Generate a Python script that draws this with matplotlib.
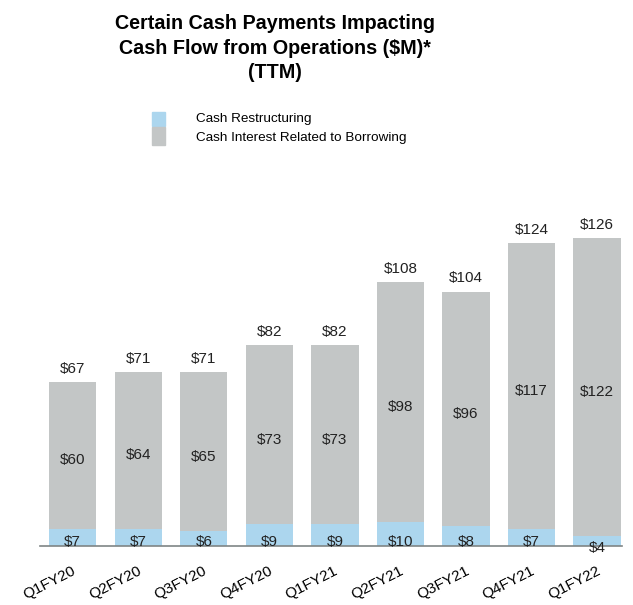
import numpy as np
import matplotlib
matplotlib.use('Agg')
import matplotlib.pyplot as plt
from matplotlib.transforms import ScaledTranslation

plt.rcParams['font.family'] = ['Liberation Sans', 'DejaVu Sans']

trimestres = ['Q1FY20', 'Q2FY20', 'Q3FY20', 'Q4FY20', 'Q1FY21',
              'Q2FY21', 'Q3FY21', 'Q4FY21', 'Q1FY22']
reestructuracion = [7, 7, 6, 9, 9, 10, 8, 7, 4]
intereses = [60, 64, 65, 73, 73, 98, 96, 117, 122]
totales = [67, 71, 71, 82, 82, 108, 104, 124, 126]

color_azul = '#acd6ee'
color_gris = '#c3c6c6'
color_texto = '#222222'

fig = plt.figure(figsize=(6.33, 6.05), dpi=100)
ax = fig.add_axes([40 / 633, 1 - 546 / 605, 582 / 633, 318 / 605])

x = np.arange(len(trimestres))
ancho = 0.72

ax.bar(x, reestructuracion, ancho, color=color_azul, zorder=2)
ax.bar(x, intereses, ancho, bottom=reestructuracion, color=color_gris, zorder=2)

ax.set_xlim(-0.5, 8.38)
ax.set_ylim(0, 130)

# Etiquetas de valores
for i in x:
    r = reestructuracion[i]
    y_r = -0.8 if r < 5 else 1.8
    ax.text(i, y_r, f'${r}', ha='center', va='center', fontsize=11, color=color_texto, zorder=3)
    ax.text(i, r + intereses[i] / 2 - 2, f'${intereses[i]}', ha='center', va='center',
            fontsize=11, color=color_texto, zorder=3)
    ax.text(i, totales[i] + 2.5, f'${totales[i]}', ha='center', va='bottom',
            fontsize=11, color=color_texto, zorder=3)

for lado in ['top', 'right', 'left']:
    ax.spines[lado].set_visible(False)
ax.spines['bottom'].set_color('#7f8585')
ax.spines['bottom'].set_linewidth(1.2)
ax.set_yticks([])
ax.set_xticks(x)
ax.set_xticklabels(trimestres, rotation=27, ha='right', rotation_mode='anchor', fontsize=11)
ax.tick_params(axis='x', length=0, pad=13)
desplazamiento = ScaledTranslation(-1 / 100, 0, fig.dpi_scale_trans)
for etiqueta in ax.get_xticklabels():
    etiqueta.set_transform(etiqueta.get_transform() + desplazamiento)

# Titulo
fig.text(275 / 633, 1 - 48 / 605, 'Certain Cash Payments Impacting\nCash Flow from Operations ($M)*\n(TTM)',
         ha='center', va='center', fontsize=14.2, fontweight='bold', linespacing=1.35)

# Leyenda manual
fig.patches.append(plt.Rectangle((152 / 633, 1 - 126 / 605), 13 / 633, 14 / 605,
                                 transform=fig.transFigure, color=color_azul))
fig.patches.append(plt.Rectangle((152 / 633, 1 - 145 / 605), 13 / 633, 18 / 605,
                                 transform=fig.transFigure, color=color_gris))
fig.text(196 / 633, 1 - 119 / 605, 'Cash Restructuring', ha='left', va='center', fontsize=9.7)
fig.text(196 / 633, 1 - 138 / 605, 'Cash Interest Related to Borrowing', ha='left', va='center', fontsize=9.7)

fig.savefig('out.png', dpi=100)
